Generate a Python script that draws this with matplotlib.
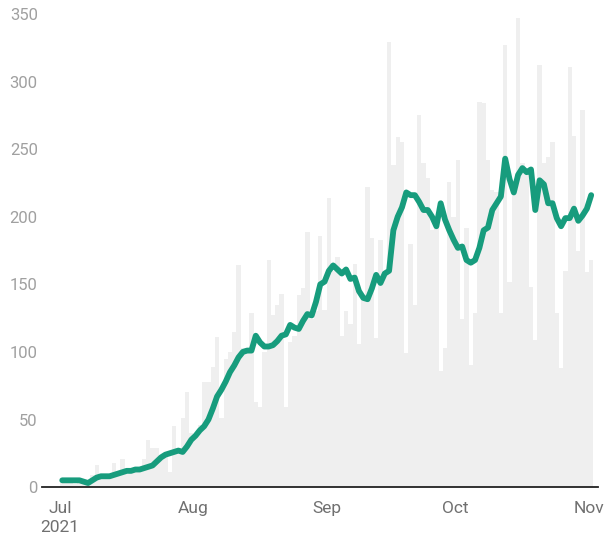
import numpy as np
import pandas as pd
import matplotlib
matplotlib.use('Agg')
import matplotlib.pyplot as plt

# Daily new cases (grey bars) and 7-day average (green line), Jul 1 - Nov 1 2021
start = '2021-07-01'
daily = [
    3, 4, 6, 2, 5, 3, 4, 9, 16, 8, 6, 10, 18, 12, 21, 10, 14, 12, 15, 21,
    35, 29, 29, 20, 23, 11, 45, 29, 51, 70, 40,                       # Jul
    37, 46, 78, 78, 89, 111, 51, 95, 100, 115, 164, 103, 103, 129, 63, 59,
    100, 168, 127, 135, 143, 59, 107, 112, 142, 147, 189, 124, 130, 186, 131,  # Aug
    214, 160, 170, 112, 130, 121, 165, 106, 143, 222, 184, 110, 183, 160, 329,
    238, 259, 255, 99, 180, 135, 275, 240, 229, 190, 200, 86, 103, 226, 200,   # Sep
    242, 124, 192, 90, 129, 285, 284, 242, 220, 218, 129, 327, 152, 225, 347,
    240, 235, 148, 109, 312, 240, 244, 255, 129, 88, 160, 311, 260, 175, 279,
    159,                                                              # Oct
    168,                                                              # Nov 1
]
avg7 = [
    5, 5, 5, 5, 5, 4, 3, 5, 7, 8, 8, 8, 9, 10, 11, 12, 12, 13, 13, 14,
    15, 16, 19, 22, 24, 25, 26, 27, 26, 30, 35,
    38, 42, 45, 50, 58, 67, 72, 78, 85, 90, 96, 100, 101, 101, 112, 107,
    104, 104, 105, 108, 112, 113, 120, 118, 117, 123, 128, 127, 137, 150, 152,
    160, 164, 161, 158, 161, 154, 155, 145, 140, 139, 147, 157, 151, 158, 160,
    190, 200, 207, 218, 216, 216, 211, 205, 205, 200, 193, 210, 198, 190, 183,
    177, 178, 168, 166, 168, 177, 190, 192, 205, 210, 215, 243, 228, 218, 231,
    236, 233, 235, 205, 227, 224, 210, 210, 199, 193, 199, 199, 206, 197, 201,
    206,
    216,
]
month_ticks = ['2021-07-01', '2021-08-01', '2021-09-01', '2021-10-01', '2021-11-01']
month_labels = ['Jul\n2021', 'Aug', 'Sep', 'Oct', 'Nov']
y_ticks = [0, 50, 100, 150, 200, 250, 300, 350]

plt.rcParams['font.family'] = ['Roboto', 'DejaVu Sans']

dates = pd.date_range(start, periods=len(daily), freq='D')

fig = plt.figure(figsize=(6.08, 5.4), dpi=100)
ax = fig.add_axes([42 / 608, 0.098, 556 / 608, 0.876])

ax.bar(dates, daily, width=1.0, align='edge', color='#efefef', linewidth=0)
ax.plot(dates + pd.Timedelta(hours=12), avg7, color='#179c7d', lw=4.2,
        solid_capstyle='round', solid_joinstyle='round')

ax.set_ylim(0, 350)
ax.set_xlim(pd.Timestamp('2021-06-26 19:00'), pd.Timestamp('2021-11-03 02:00'))
ax.set_yticks(y_ticks)
ax.set_xticks(pd.to_datetime(month_ticks))
ax.set_xticklabels(month_labels, linespacing=1.35)

ax.tick_params(axis='y', length=0, pad=3, labelsize=12, labelcolor='#a0a0a0')
ax.tick_params(axis='x', length=0, pad=10, labelsize=12.5, labelcolor='#707070')

for side in ['top', 'right', 'left']:
    ax.spines[side].set_visible(False)
ax.spines['bottom'].set_color('#222222')
ax.spines['bottom'].set_linewidth(1.3)

fig.savefig('out.png', dpi=100)
